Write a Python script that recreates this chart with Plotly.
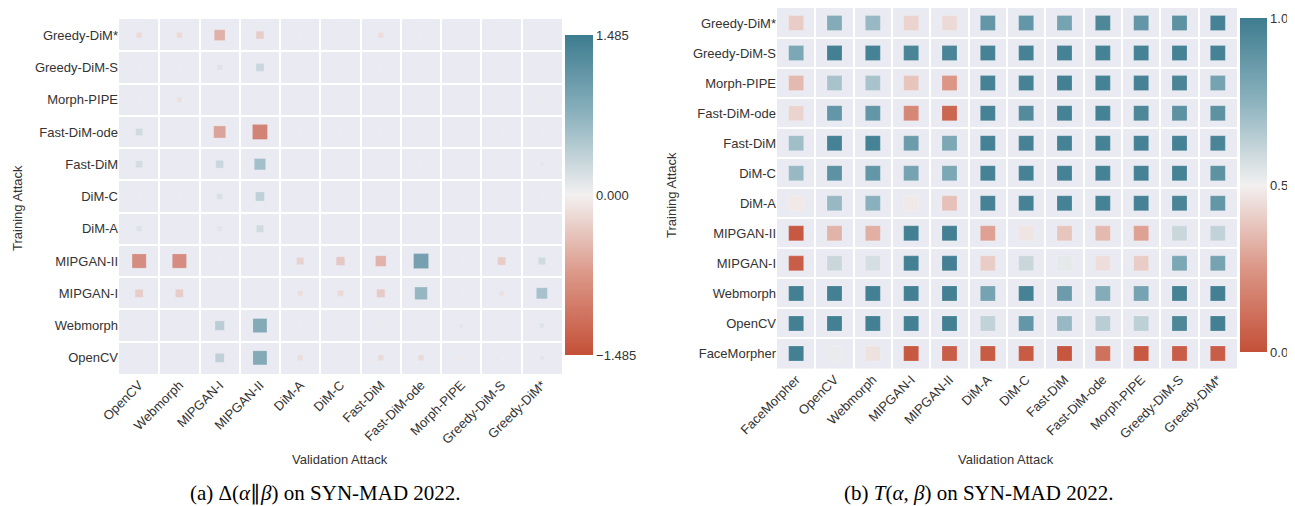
import numpy as np
import plotly.graph_objects as go

# ---------------- data ----------------
val_a = ["OpenCV", "Webmorph", "MIPGAN-I", "MIPGAN-II", "DiM-A", "DiM-C",
         "Fast-DiM", "Fast-DiM-ode", "Morph-PIPE", "Greedy-DiM-S", "Greedy-DiM*"]
train_a = ["Greedy-DiM*", "Greedy-DiM-S", "Morph-PIPE", "Fast-DiM-ode", "Fast-DiM",
           "DiM-C", "DiM-A", "MIPGAN-II", "MIPGAN-I", "Webmorph", "OpenCV"]  # top -> bottom
delta = [
    [-0.22, -0.22, -0.72, -0.38, 0.02, -0.02, -0.20, -0.03, 0.01, -0.03, 0.00],
    [-0.02, -0.02, 0.18, 0.40, 0.02, 0.00, 0.02, 0.01, 0.00, 0.01, 0.01],
    [0.03, -0.17, -0.05, -0.05, 0.00, 0.02, 0.02, 0.00, 0.01, 0.01, -0.06],
    [0.32, 0.05, -0.90, -1.40, 0.02, 0.02, 0.02, 0.01, 0.00, 0.02, 0.02],
    [0.30, 0.05, 0.38, 0.80, 0.00, 0.00, 0.00, 0.02, 0.00, 0.00, 0.12],
    [-0.02, -0.03, 0.24, 0.50, 0.00, 0.00, 0.00, 0.02, 0.00, 0.00, 0.02],
    [0.20, -0.03, 0.16, 0.33, 0.00, 0.01, 0.00, 0.00, 0.00, 0.00, 0.02],
    [-1.25, -1.25, 0.02, 0.00, -0.33, -0.45, -0.70, 1.40, 0.06, -0.40, 0.33],
    [-0.40, -0.40, 0.00, 0.02, -0.18, -0.24, -0.42, 0.98, 0.03, -0.16, 0.75],
    [0.00, 0.00, 0.55, 1.22, 0.03, -0.04, -0.06, -0.06, 0.13, 0.02, 0.17],
    [0.00, 0.00, 0.50, 1.22, -0.20, 0.02, -0.22, -0.22, -0.08, 0.02, 0.13],
]
delta_lim = 1.485

val_b = ["FaceMorpher", "OpenCV", "Webmorph", "MIPGAN-I", "MIPGAN-II", "DiM-A", "DiM-C",
         "Fast-DiM", "Fast-DiM-ode", "Morph-PIPE", "Greedy-DiM-S", "Greedy-DiM*"]
train_b = ["Greedy-DiM*", "Greedy-DiM-S", "Morph-PIPE", "Fast-DiM-ode", "Fast-DiM", "DiM-C",
           "DiM-A", "MIPGAN-II", "MIPGAN-I", "Webmorph", "OpenCV", "FaceMorpher"]  # top -> bottom
trans = [
    [0.40, 0.78, 0.72, 0.42, 0.44, 0.88, 0.88, 0.82, 0.95, 0.88, 0.90, 0.97],
    [0.80, 0.98, 0.97, 0.96, 0.96, 0.97, 0.97, 0.97, 0.97, 0.97, 0.97, 0.97],
    [0.35, 0.68, 0.68, 0.38, 0.25, 0.97, 0.97, 0.98, 0.97, 0.97, 0.96, 0.82],
    [0.42, 0.88, 0.88, 0.20, 0.08, 0.97, 0.93, 0.97, 0.97, 0.95, 0.90, 0.90],
    [0.70, 0.97, 0.97, 0.85, 0.80, 0.97, 0.97, 0.97, 0.97, 0.97, 0.97, 0.96],
    [0.72, 0.90, 0.88, 0.82, 0.80, 0.97, 0.97, 0.97, 0.97, 0.97, 0.97, 0.90],
    [0.48, 0.72, 0.76, 0.48, 0.37, 0.97, 0.97, 0.97, 0.97, 0.97, 0.96, 0.88],
    [0.03, 0.33, 0.32, 0.98, 0.98, 0.28, 0.47, 0.38, 0.35, 0.28, 0.60, 0.62],
    [0.05, 0.60, 0.57, 0.98, 0.98, 0.40, 0.60, 0.53, 0.45, 0.40, 0.80, 0.82],
    [0.98, 0.98, 0.98, 0.98, 0.98, 0.82, 0.97, 0.85, 0.78, 0.82, 0.97, 0.98],
    [0.98, 0.98, 0.98, 0.98, 0.98, 0.62, 0.88, 0.72, 0.64, 0.63, 0.95, 0.98],
    [0.98, 0.52, 0.46, 0.03, 0.05, 0.04, 0.04, 0.02, 0.12, 0.03, 0.05, 0.05],
]

# ---------------- style ----------------
cscale = [
    [0.0, "rgb(196,80,56)"],
    [0.25, "rgb(219,150,134)"],
    [0.5, "rgb(242,240,240)"],
    [0.75, "rgb(140,178,190)"],
    [1.0, "rgb(61,124,143)"],
]
OFF = 8                      # page body margin of the html page
W, H = 1295 - OFF, 506 - OFF
FONT = "Liberation Sans, Arial, sans-serif"
TXT = "#333333"
BG = "#EAEAF2"


def px_x(x):
    return (x - OFF) / W


def px_y(y):
    return 1 - (y - OFF) / H


fig = go.Figure()

# ---- panel (a) ----
xa, ya, ca, sa = [], [], [], []
dmax = max(abs(v) for row in delta for v in row)
for r, row in zip(train_a, delta):
    for c, v in zip(val_a, row):
        xa.append(c)
        ya.append(r)
        ca.append(v)
        sa.append(15.0 * np.sqrt(abs(v) / dmax))

fig.add_trace(go.Scatter(
    x=xa, y=ya, mode="markers", xaxis="x", yaxis="y", hoverinfo="x+y+text",
    text=[f"{v:.3f}" for v in ca],
    marker=dict(symbol="square", size=sa, color=ca, colorscale=cscale,
                cmin=-delta_lim, cmax=delta_lim,
                line=dict(width=0.6, color="rgba(255,255,255,0.3)"),
                showscale=True,
                colorbar=dict(x=px_x(565), xanchor="left", y=px_y(195), yanchor="middle",
                              len=320 / H, lenmode="fraction", thickness=28, xpad=0, ypad=0,
                              outlinewidth=0, ticks="",
                              tickvals=[-delta_lim, 0, delta_lim],
                              ticktext=["\u22121.485", "0.000", "1.485"],
                              tickfont=dict(family=FONT, size=13, color=TXT))),
    showlegend=False))

# ---- panel (b) ----
xb, yb, cb = [], [], []
for r, row in zip(train_b, trans):
    for c, v in zip(val_b, row):
        xb.append(c)
        yb.append(r)
        cb.append(v)

fig.add_trace(go.Scatter(
    x=xb, y=yb, mode="markers", xaxis="x2", yaxis="y2", hoverinfo="x+y+text",
    text=[f"{v:.2f}" for v in cb],
    marker=dict(symbol="square", size=15, color=cb, colorscale=cscale,
                cmin=0, cmax=1,
                line=dict(width=0.6, color="rgba(255,255,255,0.3)"),
                showscale=True,
                colorbar=dict(x=px_x(1240), xanchor="left", y=px_y(185), yanchor="middle",
                              len=334 / H, lenmode="fraction", thickness=27, xpad=0, ypad=0,
                              outlinewidth=0, ticks="",
                              tickvals=[0, 0.5, 1.0],
                              ticktext=["0.0", "0.5", "1.0"],
                              tickfont=dict(family=FONT, size=13, color=TXT))),
    showlegend=False))

axis_common = dict(type="category", tickson="boundaries", showgrid=True, automargin=False,
                   gridcolor="white", gridwidth=1.5, ticks="", zeroline=False,
                   showline=False, tickfont=dict(family=FONT, size=13, color=TXT))

fig.update_layout(
    width=W, height=H, margin=dict(l=0, r=0, t=0, b=0, autoexpand=False),
    paper_bgcolor="white", plot_bgcolor=BG,
    xaxis=dict(**axis_common, domain=[px_x(119), px_x(562)], anchor="y",
               categoryorder="array", categoryarray=val_a,
               range=[-0.5, len(val_a) - 0.5], tickangle=-45),
    yaxis=dict(**axis_common, domain=[px_y(374), px_y(19)], anchor="x",
               categoryorder="array", categoryarray=train_a[::-1],
               range=[-0.5, len(train_a) - 0.5]),
    xaxis2=dict(**axis_common, domain=[px_x(777), px_x(1237)], anchor="y2",
                categoryorder="array", categoryarray=val_b,
                range=[-0.5, len(val_b) - 0.5], tickangle=-45),
    yaxis2=dict(**axis_common, domain=[px_y(368.5), px_y(OFF + 0.01)], anchor="x2",
                categoryorder="array", categoryarray=train_b[::-1],
                range=[-0.5, len(train_b) - 0.5]),
)

ann_font = dict(family=FONT, size=13, color=TXT)
cap_font = dict(family="Liberation Serif, Times New Roman, serif", size=21, color="black")
common_ann = dict(xref="paper", yref="paper", xanchor="center", yanchor="middle", showarrow=False)
fig.add_annotation(text="Training Attack", x=px_x(17), y=px_y(208), textangle=-90,
                   font=ann_font, **common_ann)
fig.add_annotation(text="Training Attack", x=px_x(671), y=px_y(195), textangle=-90,
                   font=ann_font, **common_ann)
fig.add_annotation(text="Validation Attack", x=px_x(340), y=px_y(459), font=ann_font, **common_ann)
fig.add_annotation(text="Validation Attack", x=px_x(1006), y=px_y(459), font=ann_font, **common_ann)
fig.add_annotation(text="(a) \u0394(<i>\u03b1</i>\u2225<i>\u03b2</i>) on SYN-MAD 2022.",
                   x=px_x(325), y=px_y(493), font=cap_font, **common_ann)
fig.add_annotation(text="(b) <i>T</i>(<i>\u03b1</i>, <i>\u03b2</i>) on SYN-MAD 2022.",
                   x=px_x(978), y=px_y(493), font=cap_font, **common_ann)

fig.write_html("out.html")
